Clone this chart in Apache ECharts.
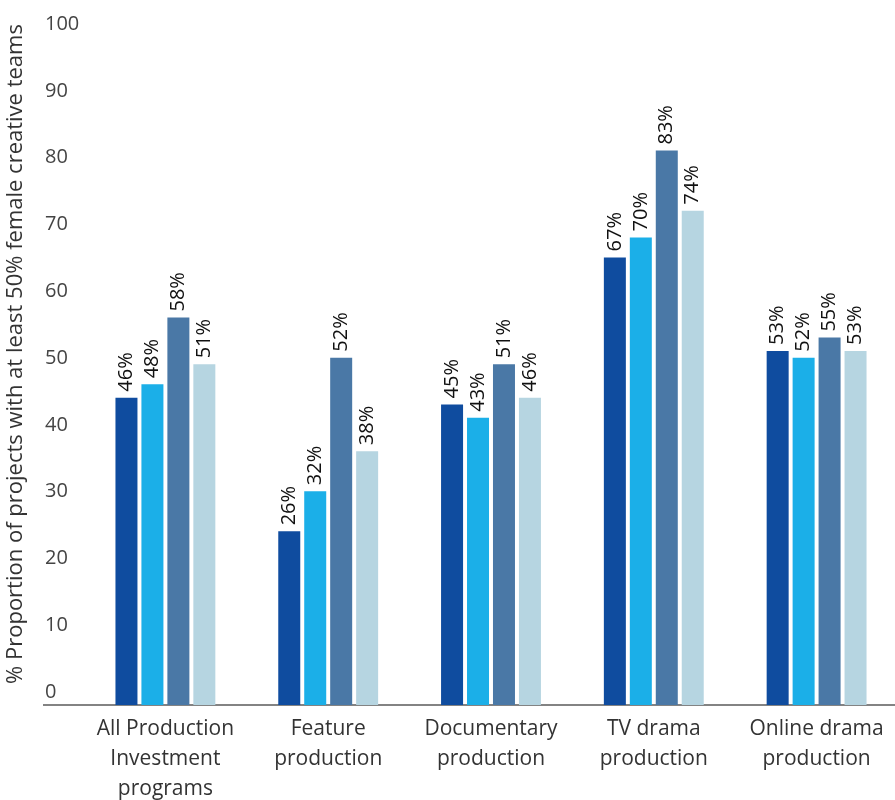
<!DOCTYPE html>
<html lang="en">
<head>
    <meta charset="UTF-8">
    <title>Female creative teams by program</title>
    <script src="https://cdn.jsdelivr.net/npm/echarts@6/dist/echarts.min.js"></script>
    <style>
        html, body { margin: 0; padding: 0; background: #ffffff; }
        #chart { width: 895px; height: 800px; }
    </style>
</head>
<body>
    <div id="chart"></div>
    <script>
        // categories and values
        const categories = [
            'All Production\nInvestment\nprograms',
            'Feature\nproduction',
            'Documentary\nproduction',
            'TV drama\nproduction',
            'Online drama\nproduction'
        ];
        const seriesA = [46, 26, 45, 67, 53];
        const seriesB = [48, 32, 43, 70, 52];
        const seriesC = [58, 52, 51, 83, 55];
        const seriesD = [51, 38, 46, 74, 53];
        const yTicks = [0, 10, 20, 30, 40, 50, 60, 70, 80, 90, 100];
        const yTitle = '% Proportion of projects with at least 50% female creative teams';

        const colors = ['#0f4c9f', '#1bafe8', '#4a78a6', '#b6d5e1'];
        const font = '"Open Sans", "Noto Sans", sans-serif';

        const chart = echarts.init(document.getElementById('chart'));

        function bar(data, i) {
            return {
                type: 'bar',
                data: data,
                barWidth: 22,
                barGap: '18%',
                itemStyle: { color: colors[i] },
                label: {
                    show: true,
                    position: 'top',
                    rotate: 90,
                    align: 'left',
                    verticalAlign: 'middle',
                    distance: 6,
                    formatter: '{c}%',
                    color: '#111',
                    fontSize: 20,
                    fontFamily: font
                }
            };
        }

        chart.setOption({
            animation: false,
            // outerBoundsMode none: keep the grid fixed even though the labels run to the bottom edge
            grid: { left: 84, right: -3, top: 37, bottom: 95, outerBoundsMode: 'none' },
            xAxis: {
                type: 'category',
                data: categories,
                axisLine: { show: false },
                axisTick: { show: false },
                axisLabel: {
                    color: '#333',
                    fontSize: 21,
                    fontFamily: font,
                    lineHeight: 30,
                    margin: 9,
                    interval: 0
                }
            },
            yAxis: {
                type: 'value',
                min: yTicks[0],
                max: yTicks[yTicks.length - 1],
                interval: 10,
                splitLine: { show: false },
                axisLine: { show: false },
                axisTick: { show: false },
                axisLabel: {
                    color: '#444',
                    fontSize: 20,
                    fontFamily: font,
                    align: 'left',
                    margin: 39,
                    verticalAlign: 'bottom',
                    padding: [0, 0, 3, 0]
                }
            },
            graphic: [{
                type: 'line',
                shape: { x1: 43, y1: 705, x2: 895, y2: 705 },
                style: { stroke: '#5a5a5a', lineWidth: 1.5 }
            }, {
                type: 'text',
                x: 16,
                y: 354,
                rotation: Math.PI / 2,
                style: {
                    text: yTitle,
                    fill: '#333',
                    font: '22px "Open Sans", "Noto Sans", sans-serif',
                    align: 'center',
                    verticalAlign: 'middle'
                }
            }],
            series: [bar(seriesA, 0), bar(seriesB, 1), bar(seriesC, 2), bar(seriesD, 3)]
        });
    </script>
</body>
</html>
